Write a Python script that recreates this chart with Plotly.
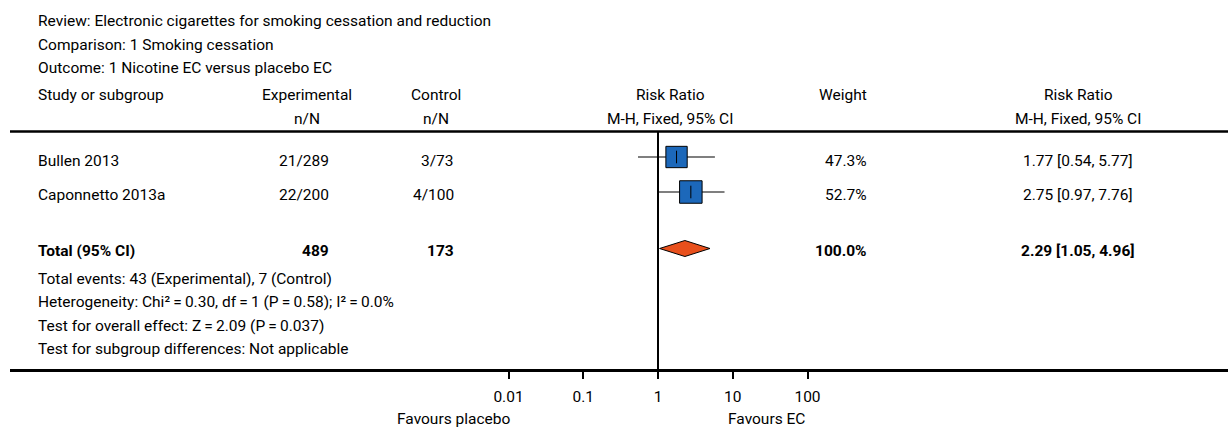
import numpy as np
import plotly.graph_objects as go

# ---------------- data ----------------
studies = ["Bullen 2013", "Caponnetto 2013a"]
exp_events = [21, 22]
exp_total = [289, 200]
ctrl_events = [3, 4]
ctrl_total = [73, 100]
rr = [1.77, 2.75]
ci_low = [0.54, 0.97]
ci_high = [5.77, 7.76]
weights = [47.3, 52.7]

total_rr = 2.29
total_low = 1.05
total_high = 4.96
chi2 = 0.30
het_df = 1
p_het = 0.58
i2 = 0.0
z_val = 2.09
p_z = 0.037

tick_vals = [0.01, 0.1, 1, 10, 100]
tick_text = ["0.01", "0.1", "1", "10", "100"]

header_lines = [
    "Review: Electronic cigarettes for smoking cessation and reduction",
    "Comparison: 1 Smoking cessation",
    "Outcome: 1 Nicotine EC versus placebo EC",
]

# ---------------- layout constants (pixels) ----------------
W, H = 1228, 430
ML, MB = 10, 61
PLOT_H = H - MB           # 369
PLOT_W = W - ML           # 1218
X_ONE = 658.0             # pixel of RR = 1
PX_DEC = 74.75            # pixels per decade
ROW_Y = [157, 192]
ROW_TXT_Y = [161, 195]
TOTAL_Y = 248.5
DIAM_H = 8
FONT = "Roboto, 'Liberation Sans', Arial, sans-serif"
FS = 15.5
TXT = "#000000"

x_range = [(ML - X_ONE) / PX_DEC, (W - X_ONE) / PX_DEC]

fig = go.Figure()

# confidence intervals
for lo, hi, y in zip(ci_low, ci_high, ROW_Y):
    fig.add_trace(go.Scatter(x=[lo, hi], y=[y, y], mode="lines",
                             line=dict(color="black", width=1.2),
                             hoverinfo="skip", showlegend=False))

# line of no effect
fig.add_trace(go.Scatter(x=[1, 1], y=[131, PLOT_H + 2], mode="lines",
                         line=dict(color="black", width=2),
                         hoverinfo="skip", showlegend=False, cliponaxis=False))

# study boxes (size by weight)
w = np.array(weights)
sizes = 22.5 * np.sqrt(w / w.max())
fig.add_trace(go.Scatter(x=rr, y=ROW_Y, mode="markers",
                         marker=dict(symbol="square", size=sizes, color="#1C68BA",
                                     opacity=1, line=dict(color="black", width=1)),
                         hoverinfo="skip", showlegend=False))
fig.add_trace(go.Scatter(x=rr, y=ROW_Y, mode="markers",
                         marker=dict(symbol="line-ns", size=9, opacity=1,
                                     line=dict(color="black", width=1)),
                         hoverinfo="skip", showlegend=False))

# pooled diamond
fig.add_trace(go.Scatter(x=[total_low, total_rr, total_high, total_rr, total_low],
                         y=[TOTAL_Y, TOTAL_Y - DIAM_H, TOTAL_Y, TOTAL_Y + DIAM_H, TOTAL_Y],
                         mode="lines", fill="toself", fillcolor="#E8501C",
                         line=dict(color="black", width=1),
                         hoverinfo="skip", showlegend=False))

ann = []


def txt(s, xpx, ypx, anchor="left", bold=False):
    if bold:
        s = "<b>" + s + "</b>"
    ann.append(dict(text=s, x=(xpx - ML) / PLOT_W, y=(PLOT_H - ypx) / PLOT_H,
                    xref="paper", yref="paper", xanchor=anchor, yanchor="middle",
                    showarrow=False, font=dict(family=FONT, size=FS, color=TXT)))


for s, y in zip(header_lines, [20.5, 44.5, 68]):
    txt(s, 36, y)

txt("Study or subgroup", 36, 95)
txt("Experimental", 307, 95, "center")
txt("Control", 436, 95, "center")
txt("Risk Ratio", 670, 95, "center")
txt("Weight", 843, 95, "center")
txt("Risk Ratio", 1078, 95, "center")
txt("n/N", 307, 119, "center")
txt("n/N", 436, 119, "center")
txt("M-H, Fixed, 95% CI", 670, 119, "center")
txt("M-H, Fixed, 95% CI", 1078, 119, "center")

for i, ty in enumerate(ROW_TXT_Y):
    txt(studies[i], 36, ty)
    txt(f"{exp_events[i]}/{exp_total[i]}", 331, ty, "right")
    txt(f"{ctrl_events[i]}/{ctrl_total[i]}", 456, ty, "right")
    txt(f"{weights[i]:.1f}%", 869, ty, "right")
    txt(f"{rr[i]:.2f} [{ci_low[i]:.2f}, {ci_high[i]:.2f}]", 1078, ty, "center")

ty = 251
txt("Total (95% CI)", 36, ty, bold=True)
txt(f"{sum(exp_total)}", 331, ty, "right", bold=True)
txt(f"{sum(ctrl_total)}", 456, ty, "right", bold=True)
txt(f"{sum(weights):.1f}%", 869, ty, "right", bold=True)
txt(f"{total_rr:.2f} [{total_low:.2f}, {total_high:.2f}]", 1078, ty, "center", bold=True)

eq = "\u2009=\u2009"
footer = [
    f"Total events: {sum(exp_events)} (Experimental), {sum(ctrl_events)} (Control)",
    f"Heterogeneity: Chi\u00b2{eq}{chi2:.2f}, df{eq}{het_df} (P{eq}{p_het:.2f}); I\u00b2{eq}{i2:.1f}%",
    f"Test for overall effect: Z{eq}{z_val:.2f} (P{eq}{p_z:.3f})",
    "Test for subgroup differences: Not applicable",
]
for s, y in zip(footer, [278.5, 301.5, 325.5, 348.5]):
    txt(s, 36, y)

txt("Favours placebo", 453, 419, "center")
txt("Favours EC", 766, 419, "center")

fig.update_layout(
    width=W, height=H,
    margin=dict(l=ML, r=0, t=0, b=MB, pad=0),
    paper_bgcolor="white", plot_bgcolor="white",
    showlegend=False,
    annotations=ann,
    shapes=[dict(type="line", xref="paper", yref="y", x0=0, x1=1, y0=131.5, y1=131.5,
                 line=dict(color="black", width=2.5))],
    xaxis=dict(type="log", range=x_range, showgrid=False, zeroline=False,
               showline=True, linecolor="black", linewidth=2.5,
               ticks="outside", ticklen=7, tickwidth=2, tickcolor="black",
               tickvals=tick_vals, ticktext=tick_text, ticklabelstandoff=5,
               tickfont=dict(family=FONT, size=FS, color=TXT), fixedrange=True),
    yaxis=dict(range=[PLOT_H, 0], visible=False, showgrid=False, zeroline=False,
               fixedrange=True),
)

fig.write_html("out.html", config={"displayModeBar": False},
               post_script="document.body.style.margin='0px';")
